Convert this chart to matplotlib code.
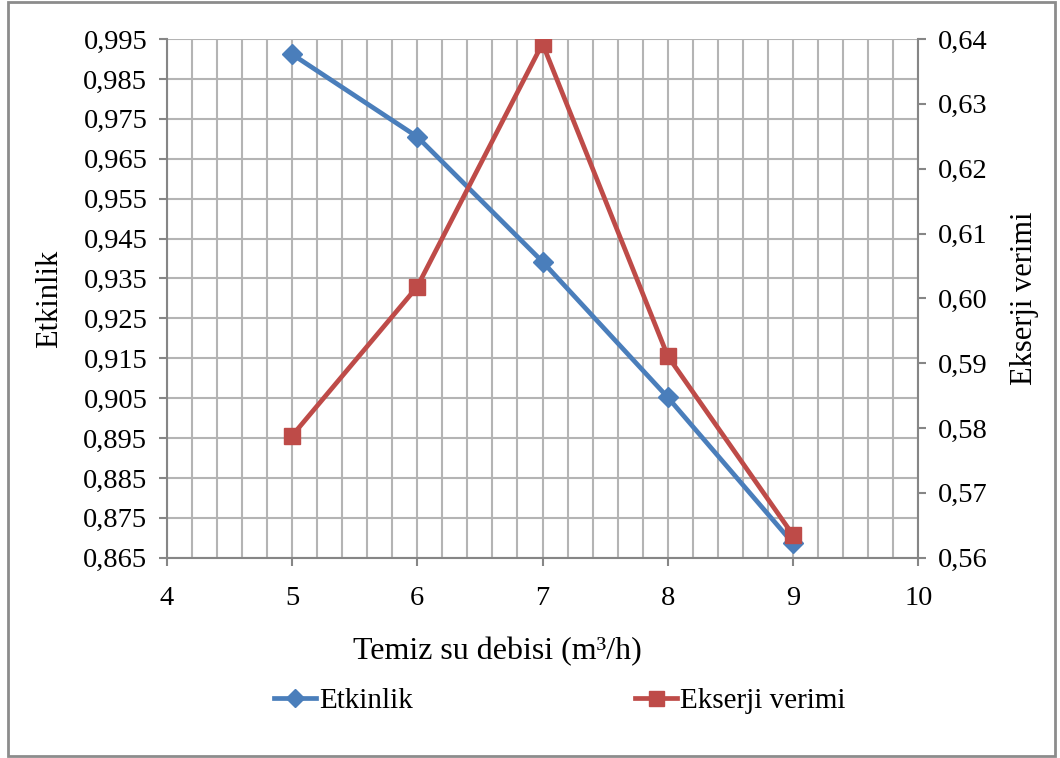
import matplotlib.pyplot as plt
from matplotlib.patches import Rectangle
from matplotlib.ticker import MultipleLocator

# Veriler
debi = [5, 6, 7, 8, 9]  # m3/h
etkinlik = [0.9912, 0.9705, 0.9392, 0.9052, 0.8686]
ekserji = [0.5788, 0.6018, 0.6393, 0.5911, 0.5635]

left_ticks = [0.865, 0.875, 0.885, 0.895, 0.905, 0.915, 0.925, 0.935, 0.945,
              0.955, 0.965, 0.975, 0.985, 0.995]
right_ticks = [0.56, 0.57, 0.58, 0.59, 0.60, 0.61, 0.62, 0.63, 0.64]
x_ticks = [4, 5, 6, 7, 8, 9, 10]

plt.rcParams['font.family'] = ['Liberation Serif', 'DejaVu Serif']

blue = '#4A7EBB'
red = '#BE4B48'
grid_c = '#B4B4B4'
axis_c = '#868686'

fig = plt.figure(figsize=(10.6, 7.58), dpi=100)
ax = fig.add_axes([0.1573, 0.2642, 0.7090, 0.6843])
ax2 = ax.twinx()

ax.plot(debi, etkinlik, color=blue, lw=3.4, marker='D', ms=10, label='Etkinlik', zorder=3)
ax2.plot(debi, ekserji, color=red, lw=3.4, marker='s', ms=12, label='Ekserji verimi', zorder=3)

ax.set_xlim(4, 10)
ax.set_ylim(0.865, 0.995)
ax2.set_ylim(0.56, 0.64)

ax.set_xticks(x_ticks)
ax.set_xticklabels([str(v) for v in x_ticks])
ax.xaxis.set_minor_locator(MultipleLocator(0.2))
ax.set_yticks(left_ticks)
ax.set_yticklabels([f'{v:.3f}'.replace('.', ',') for v in left_ticks])
ax2.set_yticks(right_ticks)
ax2.set_yticklabels([f'{v:.2f}'.replace('.', ',') for v in right_ticks])

ax.grid(which='both', axis='x', color=grid_c, lw=1.5)
ax.grid(which='major', axis='y', color=grid_c, lw=1.5)
ax.set_axisbelow(True)

for a in (ax, ax2):
    for s in a.spines.values():
        s.set_visible(False)
    a.tick_params(labelsize=20.5, colors='black', color=axis_c, length=6, width=1.5, pad=8)
ax.spines['left'].set_visible(True)
ax.spines['bottom'].set_visible(True)
ax2.spines['right'].set_visible(True)
for s in (ax.spines['left'], ax.spines['bottom'], ax2.spines['right']):
    s.set_color(axis_c)
    s.set_linewidth(1.5)
ax.tick_params(axis='x', which='minor', length=0)
ax.tick_params(axis='x', pad=14)

ax.set_ylabel('Etkinlik', fontsize=22, labelpad=14)
ax2.set_ylabel('Ekserji verimi', fontsize=22, labelpad=16)
fig.text(0.469, 0.141, 'Temiz su debisi (m³/h)', fontsize=23, ha='center', va='center')

h1, l1 = ax.get_legend_handles_labels()
h2, l2 = ax2.get_legend_handles_labels()
fig.legend(h1 + h2, l1 + l2, loc='center', bbox_to_anchor=(0.528, 0.075), ncol=2,
           frameon=False, fontsize=21, handlelength=1.45, handletextpad=0.1,
           columnspacing=7.6, markerscale=0.9)

fig.patches.append(Rectangle((0.0075, 0.003), 0.988, 0.995, transform=fig.transFigure,
                             fill=False, edgecolor='#8C8C8C', lw=2))

fig.savefig('out.png', dpi=100)
